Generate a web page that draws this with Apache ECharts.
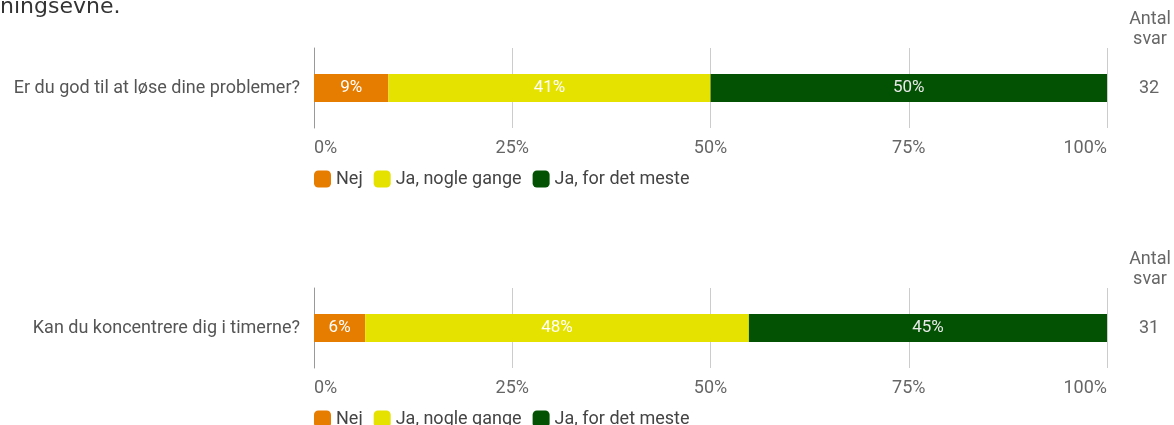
<!DOCTYPE html>
<html><head><meta charset="utf-8">
<script src="https://cdn.jsdelivr.net/npm/echarts@6/dist/echarts.min.js"></script>
<style>html,body{margin:0;padding:0;background:#fff}#c{width:1174px;height:425px}</style>
</head><body><div id="c"></div>
<script>
var categories = ['Er du god til at løse dine problemer?', 'Kan du koncentrere dig i timerne?'];
var totals = [32, 31];
var seriesNames = ['Nej', 'Ja, nogle gange', 'Ja, for det meste'];
var nej = [9.38, 6.45];
var jaNogle = [40.63, 48.39];
var jaMeste = [49.99, 45.16];
var xTicks = [0, 25, 50, 75, 100];
var colors = ['#e67c00', '#e6e200', '#035203'];
var values = [nej, jaNogle, jaMeste];

var FONT = 'Roboto';
var FS = 18;
var tops = [48, 288];
var chart = echarts.init(document.getElementById('c'));
var grids = [], xAxes = [], yAxes = [], series = [], legends = [];
tops.forEach(function (t, i) {
  grids.push({left: 314, right: 67, top: t, height: 80});
  xAxes.push({
    type: 'value', gridIndex: i, min: xTicks[0], max: xTicks[xTicks.length - 1], interval: 25,
    axisLine: {show: false}, axisTick: {show: false},
    splitLine: {lineStyle: {color: '#cccccc', width: 1}},
    axisLabel: {formatter: '{value}%', color: '#666', fontSize: FS, fontFamily: FONT, margin: 11,
      alignMinLabel: 'left', alignMaxLabel: 'right'}
  });
  yAxes.push({
    type: 'category', gridIndex: i, data: [categories[i]],
    axisLine: {show: true, lineStyle: {color: '#999', width: 1}}, axisTick: {show: false},
    axisLabel: {color: '#555', fontSize: FS, fontFamily: FONT, margin: 14}
  });
  yAxes.push({
    type: 'category', gridIndex: i, position: 'right', data: [totals[i]],
    axisLine: {show: false}, axisTick: {show: false},
    axisLabel: {color: '#666', fontSize: FS, fontFamily: FONT, margin: 32}
  });
  seriesNames.forEach(function (n, k) {
    series.push({
      type: 'bar', name: n, stack: 's' + i, xAxisIndex: i, yAxisIndex: i * 2,
      barWidth: 28, data: [values[k][i]], itemStyle: {color: colors[k]},
      label: {show: true, position: 'inside', color: k === 2 ? '#e8e8e8' : '#ffffff', fontSize: 17, fontFamily: FONT,
        formatter: function (p) { return Math.round(p.value) + '%'; }},
      emphasis: {disabled: true}
    });
  });
  legends.push({
    data: seriesNames, left: 314, top: t + 122, padding: 0, itemWidth: 17, itemHeight: 17, itemGap: 11,
    icon: 'roundRect', textStyle: {color: '#444', fontSize: FS, fontFamily: FONT}, selectedMode: false
  });
});

chart.setOption({
  animation: false,
  grid: grids, xAxis: xAxes, yAxis: yAxes, series: series, legend: legends,
  graphic: [
    {type: 'text', left: 0, top: -4, style: {text: 'ningsevne.', font: '22px "DejaVu Sans"', fill: '#333'}},
    {type: 'text', x: 1150, y: 9, style: {text: 'Antal\nsvar', font: '18px Roboto', fill: '#666', align: 'center', lineHeight: 20}},
    {type: 'text', x: 1150, y: 249, style: {text: 'Antal\nsvar', font: '18px Roboto', fill: '#666', align: 'center', lineHeight: 20}}
  ]
});
</script></body></html>
